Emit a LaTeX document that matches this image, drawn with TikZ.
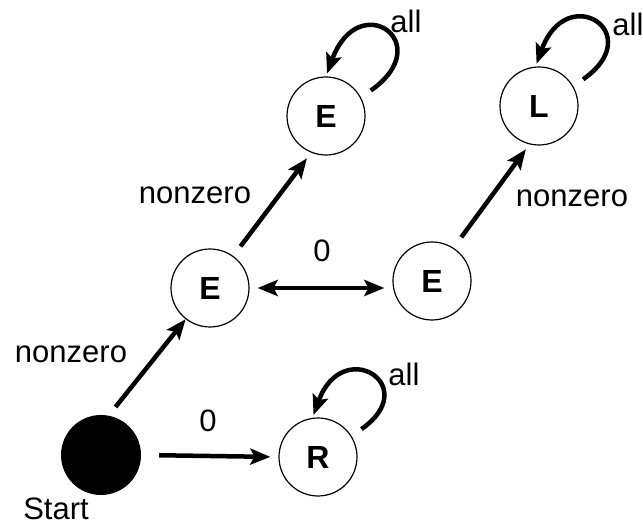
\documentclass[tikz,border=0pt]{standalone}
\usepackage{fontspec}
\setmainfont{Liberation Sans}
\usetikzlibrary{arrows.meta}

\tikzset{
  state/.style={circle, draw, line width=1.2pt, minimum size=78pt, inner sep=0pt,
    font=\bfseries\fontsize{32}{36}\selectfont},
  initial/.style={circle, fill=black, minimum size=80pt, inner sep=0pt},
  lbl/.style={font=\fontsize{31}{36}\selectfont},
  tip/.tip={Stealth[length=20pt, width=16pt, inset=4pt]},
  trans/.style={line width=4.5pt, -tip},
  twoway/.style={line width=4.5pt, tip-tip},
  selfloop/.style={trans, shorten <=12pt, shorten >=3pt}
}

\begin{document}
\begin{tikzpicture}[x=1pt, y=1pt]
\useasboundingbox (0,0) rectangle (643,527);

% states
\node[initial] (start) at (101,72) {};
\node[state] (e1) at (210,239) {E};
\node[state] (e2) at (326,411) {E};
\node[state] (e3) at (432,246) {E};
\node[state] (lnode) at (539,421) {L};
\node[state] (rnode) at (318,70) {R};

% labels
\node[lbl] (lstart) at (56,18) {Start};
\node[lbl] (lnz1) at (71,173) {nonzero};
\node[lbl] (lzero1) at (208,106) {0};
\node[lbl] (lallr) at (404,153) {all};
\node[lbl] (lnz2) at (195,332) {nonzero};
\node[lbl] (lzero2) at (322,276) {0};
\node[lbl] (lnz3) at (572,329) {nonzero};
\node[lbl] (lalle) at (406,506) {all};
\node[lbl] (lalll) at (628,503) {all};

% transitions
\draw[trans, shorten <=11pt] (start.79) -- (e1.232);
\draw[trans, shorten <=18pt, shorten >=8pt] (start.east) -- (rnode.west);
\draw[trans, shorten <=12pt, shorten >=7pt] (e1.54) -- (e2.248);
\draw[twoway, shorten <=8pt, shorten >=8pt] (e1.east) -- (e1.east -| e3.west);
\draw[trans, shorten <=13pt, shorten >=6pt] (e3.57) -- (lnode.256);

% self loops
\draw[selfloop] (e2.28) .. controls +(35:95) and +(70:95) .. (e2.90);
\draw[selfloop] (lnode.30) .. controls +(35:92) and +(70:92) .. (lnode.95);
\draw[selfloop] (rnode.32) .. controls +(35:88) and +(70:88) .. (rnode.98);

\end{tikzpicture}
\end{document}
